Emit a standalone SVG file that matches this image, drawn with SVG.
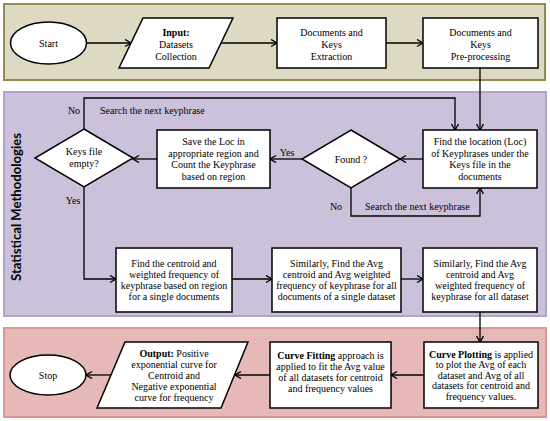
<svg xmlns="http://www.w3.org/2000/svg" width="550" height="421" viewBox="0 0 550 421" font-family="'Liberation Serif', 'Times New Roman', serif">
<defs>
<marker id="ah" markerUnits="userSpaceOnUse" markerWidth="9" markerHeight="9" refX="7" refY="4" orient="auto">
<path d="M1,0.5 L7,4 L1,7.5" fill="none" stroke="#000" stroke-width="1.4"/>
</marker>
<style>
.band1{fill:#ddd9c3;stroke:#948a54;stroke-width:2}
.band2{fill:#ccc1da;stroke:#b3a2c7;stroke-width:2}
.band3{fill:#e6b9b8;stroke:#d99694;stroke-width:2}
.n{fill:#fff;stroke:#000;stroke-width:1.5}
.t{font-family:'Liberation Serif', serif;font-size:10px;fill:#000;text-anchor:middle}
.l{font-family:'Liberation Serif', serif;font-size:10px;fill:#000}
.b{font-weight:bold}
.ca{fill:none;stroke:#000;stroke-width:1.3;marker-end:url(#ah)}
</style>
</defs>
<rect class="band1" x="4" y="4" width="541" height="76"/>
<rect class="band2" x="4" y="92" width="542" height="224"/>
<rect class="band3" x="4" y="328" width="542" height="89"/>
<text transform="translate(21,207) rotate(-90)" font-family="Lato, 'Open Sans', sans-serif" font-weight="bold" font-size="12.5" text-anchor="middle" textLength="148" lengthAdjust="spacingAndGlyphs">Statistical Methodologies</text>

<g id="connectors">
<line class="ca" x1="87" y1="43" x2="131" y2="43"/>
<line class="ca" x1="221" y1="43" x2="277" y2="43"/>
<line class="ca" x1="386" y1="43" x2="423" y2="43"/>
<line class="ca" x1="480" y1="68" x2="480" y2="130"/>
<line class="ca" x1="423" y1="159" x2="400" y2="159"/>
<line class="ca" x1="302" y1="159" x2="270" y2="159"/>
<line class="ca" x1="157" y1="159" x2="133" y2="159"/>
<polyline class="ca" points="84,129 84,98 455,98 455,130"/>
<polyline class="ca" points="351,188 351,216 480,216 480,188"/>
<polyline class="ca" points="84,187 84,279 116,279"/>
<line class="ca" x1="232" y1="279" x2="272" y2="279"/>
<line class="ca" x1="401" y1="279" x2="423" y2="279"/>
<line class="ca" x1="480" y1="312" x2="480" y2="342"/>
<line class="ca" x1="424" y1="375" x2="391" y2="375"/>
<line class="ca" x1="270" y1="375" x2="235" y2="375"/>
<line class="ca" x1="111" y1="375" x2="86" y2="375"/>
<text class="t" x="74" y="113.5">No</text>
<text class="l" x="100" y="113.5">Search the next keyphrase</text>
<text class="t" x="73" y="203.5">Yes</text>
<text class="t" x="287" y="155.5">Yes</text>
<text class="t" x="336" y="209.5">No</text>
<text class="l" x="365" y="209.5">Search the next keyphrase</text>
</g>

<g id="start">
<ellipse class="n" cx="48.5" cy="43" rx="38" ry="21"/>
<text class="t" x="48.5" y="46.5">Start</text>
</g>
<g id="input">
<polygon class="n" points="143,18 233,18 209,68 119,68"/>
<text class="t" x="176" y="36"><tspan class="b">Input:</tspan><tspan x="176" dy="12">Datasets</tspan><tspan x="176" dy="12">Collection</tspan></text>
</g>
<g id="extraction">
<rect class="n" x="277" y="18" width="109" height="50"/>
<text class="t" x="331.5" y="36">Documents and<tspan x="331.5" dy="12">Keys</tspan><tspan x="331.5" dy="12">Extraction</tspan></text>
</g>
<g id="preprocessing">
<rect class="n" x="423" y="18" width="115" height="50"/>
<text class="t" x="480.5" y="36">Documents and<tspan x="480.5" dy="12">Keys</tspan><tspan x="480.5" dy="12">Pre-processing</tspan></text>
</g>
<g id="keysempty">
<polygon class="n" points="84,129 133,158 84,187 35,158"/>
<text class="t" x="84" y="155">Keys file<tspan x="84" dy="12">empty?</tspan></text>
</g>
<g id="save">
<rect class="n" x="157" y="130" width="113" height="58"/>
<text class="t" x="213.5" y="145">Save the Loc in<tspan x="213.5" dy="11.7">appropriate region and</tspan><tspan x="213.5" dy="11.7">Count the Keyphrase</tspan><tspan x="213.5" dy="11.7">based on region</tspan></text>
</g>
<g id="found">
<polygon class="n" points="351,130 400,159 351,188 302,159"/>
<text class="t" x="351" y="162.5">Found ?</text>
</g>
<g id="findloc">
<rect class="n" x="423" y="130" width="114" height="58"/>
<text class="t" x="480" y="145">Find the location (Loc)<tspan x="480" dy="11.7">of Keyphrases under the</tspan><tspan x="480" dy="11.7">Keys file in the</tspan><tspan x="480" dy="11.7">documents</tspan></text>
</g>
<g id="centroid">
<rect class="n" x="116" y="248" width="116" height="64"/>
<text class="t" x="174" y="266.5">Find the centroid  and<tspan x="174" dy="11.3">weighted frequency of</tspan><tspan x="174" dy="11.3">keyphrase based on region</tspan><tspan x="174" dy="11.3">for a single documents</tspan></text>
</g>
<g id="avgdataset">
<rect class="n" x="272" y="248" width="129" height="64"/>
<text class="t" x="336.5" y="266.5">Similarly, Find the Avg<tspan x="336.5" dy="11.3">centroid  and Avg weighted</tspan><tspan x="336.5" dy="11.3">frequency of keyphrase for all</tspan><tspan x="336.5" dy="11.3">documents of a single dataset</tspan></text>
</g>
<g id="avgall">
<rect class="n" x="423" y="248" width="114" height="64"/>
<text class="t" x="480" y="266.5">Similarly, Find the Avg<tspan x="480" dy="11.3">centroid  and Avg</tspan><tspan x="480" dy="11.3">weighted frequency of</tspan><tspan x="480" dy="11.3">keyphrase for all dataset</tspan></text>
</g>
<g id="plotting">
<rect class="n" x="424" y="342" width="114" height="66"/>
<text class="t" x="481" y="357.5"><tspan class="b">Curve Plotting</tspan> is applied<tspan x="481" dy="10.5">to plot the Avg of each</tspan><tspan x="481" dy="10.5">dataset and Avg of all</tspan><tspan x="481" dy="10.5">datasets for centroid and</tspan><tspan x="481" dy="10.5">frequency values.</tspan></text>
</g>
<g id="fitting">
<rect class="n" x="270" y="342" width="121" height="66"/>
<text class="t" x="330.5" y="359"><tspan class="b">Curve Fitting</tspan> approach is<tspan x="330.5" dy="11">applied to fit the Avg value</tspan><tspan x="330.5" dy="11">of all datasets for centroid</tspan><tspan x="330.5" dy="11">and frequency values</tspan></text>
</g>
<g id="output">
<polygon class="n" points="125,342 248,342 221,408 97,408"/>
<text class="t" x="174" y="356.5"><tspan class="b">Output:</tspan> Positive<tspan x="174" dy="11.2">exponential curve for</tspan><tspan x="174" dy="11.2">Centroid and</tspan><tspan x="174" dy="11.2">Negative exponential</tspan><tspan x="174" dy="11.2">curve for frequency</tspan></text>
</g>
<g id="stop">
<ellipse class="n" cx="48" cy="375" rx="38" ry="20"/>
<text class="t" x="48" y="378.5">Stop</text>
</g>
</svg>
